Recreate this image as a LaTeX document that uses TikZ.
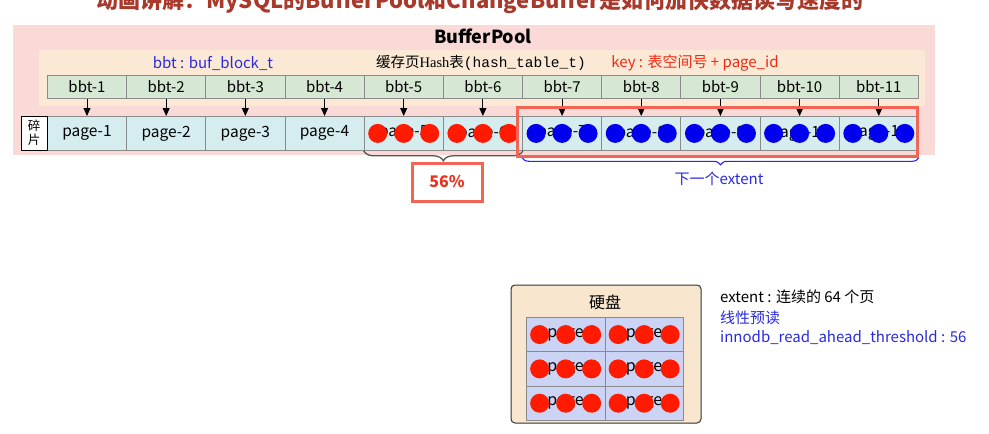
\documentclass[tikz,border=0pt]{standalone}
\usepackage{fontspec}
\setmainfont{Noto Sans CJK SC}
\newfontfamily\lserif{Liberation Serif}
\newfontfamily\lmono{Liberation Mono}
\usetikzlibrary{arrows.meta,decorations.pathreplacing,calc}
\definecolor{bpPink}{HTML}{F9DAD7}
\definecolor{htCream}{HTML}{FBE9D6}
\definecolor{bbtGreen}{HTML}{D6E8D3}
\definecolor{pageCyan}{HTML}{D6EDF0}
\definecolor{cellLine}{HTML}{8A8A8A}
\definecolor{dotRed}{HTML}{FF1A00}
\definecolor{dotBlue}{HTML}{0000EE}
\definecolor{txtBlue}{HTML}{2A2AE0}
\definecolor{txtRed}{HTML}{F02A14}
\definecolor{hlRed}{HTML}{F26455}
\definecolor{pctRed}{HTML}{E8331E}
\definecolor{diskFill}{HTML}{F8E6CF}
\definecolor{diskGrid}{HTML}{CBD4F4}
\definecolor{titleRed}{HTML}{A8392B}
\definecolor{braceGray}{HTML}{555555}
\tikzset{
  area/.style={inner sep=0pt, anchor=north west},
  bbtcell/.style={draw=cellLine, fill=bbtGreen, line width=0.8pt, minimum width=79.18pt, minimum height=23pt, inner sep=0pt, anchor=north west, font=\fontsize{15}{15}\selectfont},
  pagecell/.style={draw=cellLine, fill=pageCyan, line width=0.8pt, minimum width=79.18pt, minimum height=34pt, inner sep=0pt, anchor=north west, font=\fontsize{15.5}{15.5}\selectfont},
  diskcell/.style={draw=cellLine, fill=diskGrid, line width=0.8pt, minimum width=78.5pt, minimum height=34.33pt, inner sep=0pt, anchor=north west, font=\fontsize{16}{16}\selectfont},
  ptr/.style={line width=0.9pt, -{Triangle[width=7pt,length=8pt]}},
  lbl/.style={inner sep=0pt, font=\fontsize{15}{15}\selectfont},
}
\begin{document}
\begin{tikzpicture}[x=1pt,y=-1pt]
\clip (0,0) rectangle (989,434);
\fill[white] (0,0) rectangle (989,434);
% title (cut at the top edge, as in the reference)
\node[inner sep=0pt, anchor=base, text=titleRed, font=\fontsize{22}{22}\selectfont\bfseries] (title) at (480,8) {动画讲解：MySQL的BufferPool和ChangeBuffer是如何加快数据读写速度的};
% BufferPool area
\node[area, fill=bpPink, minimum width=922pt, minimum height=130pt] (bp) at (13,25) {};
\node[inner sep=0pt, font=\fontsize{18}{18}\selectfont\bfseries] (bptitle) at (483,36) {BufferPool};
\node[area, fill=htCream, minimum width=886pt, minimum height=56pt] (ht) at (39,50) {};
\node[lbl, text=txtBlue] (bbtlbl) at (213,63) {bbt : buf\_block\_t};
\node[inner sep=0pt, font=\fontsize{14.5}{14.5}\selectfont] (htlbl) at (481,63) {缓存页{\lserif Hash}表{\lmono (hash\_table\_t)}};
\node[lbl, text=txtRed] (keylbl) at (695,63) {key : 表空间号 + page\_id};
% cells
\foreach \i in {1,...,11}{
  \node[bbtcell] (b\i) at ({47+(\i-1)*79.18},75) {bbt-\i};
  \node[pagecell] (p\i) at ({47+(\i-1)*79.18},116) {page-\i};
}
\node[draw=black, fill=white, line width=1pt, minimum width=26pt, minimum height=34pt, inner sep=0pt, align=center, font=\fontsize{12.5}{14}\selectfont] (frag) at (34,133) {碎\\片};
\foreach \i in {1,...,11}{
  \draw[ptr] (b\i.south) -- (p\i.north);
}
% dots
\foreach \i in {5,6}{
  \foreach \d in {-26,0,26}{
    \fill[dotRed] ($(p\i.center)+(\d,0)$) circle[radius=9.5pt];
  }
}
\foreach \i in {7,...,11}{
  \foreach \d in {-26,0,26}{
    \fill[dotBlue] ($(p\i.center)+(\d,0)$) circle[radius=9.5pt];
  }
}
% braces
\draw[braceGray, line width=1.3pt, decorate, decoration={brace, mirror, amplitude=10pt}] (p5.south west) -- (p6.south east);
\node[draw=hlRed, line width=3pt, fill=white, minimum width=70pt, minimum height=38pt, inner sep=0pt, text=pctRed, font=\fontsize{16}{16}\selectfont\bfseries] (pct) at (447,182) {56\%};
\draw[txtBlue, line width=1.1pt, decorate, decoration={brace, mirror, amplitude=7pt, raise=7pt}] (p7.south west) -- (p11.south east);
\node[lbl, text=txtBlue] (nextext) at (719,179) {下一个extent};
% highlight
\draw[hlRed, line width=3pt] ($(p7.north west)+(-5,-9)$) rectangle ($(p11.south east)+(-1,6)$);
% disk
\node[draw=black!80, fill=diskFill, line width=1pt, rounded corners=4pt, minimum width=190pt, minimum height=138pt, inner sep=0pt] (disk) at (606,354) {};
\node[lbl, font=\fontsize{16}{16}\selectfont] (disklbl) at (605,302) {硬盘};
\foreach \r in {0,1,2}{
  \foreach \c in {0,1}{
    \node[diskcell] (d\r\c) at ({526+78.5*\c},{317+34.33*\r}) {page};
    \foreach \d in {-26,0,26}{
      \fill[dotRed] ($(d\r\c.center)+(\d,0)$) circle[radius=9.5pt];
    }
  }
}
% notes
\node[lbl, anchor=west] (n1) at (720,297) {extent : 连续的 64 个页};
\node[lbl, anchor=west, text=txtBlue] (n2) at (720,318) {线性预读};
\node[lbl, anchor=west, text=txtBlue] (n3) at (720,338) {innodb\_read\_ahead\_threshold : 56};
\end{tikzpicture}
\end{document}
